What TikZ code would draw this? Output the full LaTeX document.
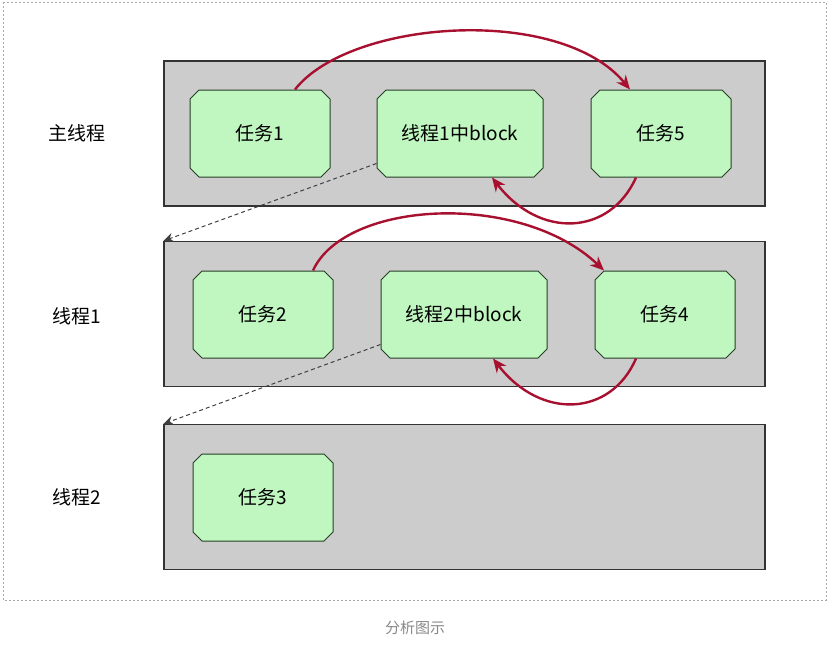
\documentclass[tikz,border=0pt]{standalone}
\usepackage{fontspec}
\setmainfont{Noto Sans CJK SC}
\usetikzlibrary{arrows.meta,positioning,shapes.misc}
\definecolor{taskgreen}{RGB}{192,246,192}
\definecolor{taskedge}{RGB}{38,64,38}
\definecolor{lanegray}{RGB}{204,204,204}
\definecolor{laneedge}{RGB}{51,51,51}
\definecolor{hopred}{RGB}{168,16,48}
\definecolor{framegray}{RGB}{170,170,170}
\definecolor{captiongray}{RGB}{136,136,136}

\begin{document}
\begin{tikzpicture}[x=1pt, y=-1pt,
    lane/.style={draw=laneedge, fill=lanegray, line width=1.2pt, minimum width=601pt, minimum height=145pt, inner sep=0pt},
    lanelabel/.style={font=\fontsize{19}{23}\selectfont},
    task/.style={chamfered rectangle, chamfered rectangle sep=4.5pt, draw=taskedge, fill=taskgreen, line width=1pt, minimum width=140pt, minimum height=87pt, inner sep=0pt, font=\fontsize{19}{23}\selectfont},
    wide/.style={minimum width=166pt},
    hop/.style={draw=hopred, line width=2.4pt, -{Stealth[length=14pt,width=12pt]}},
    handoff/.style={draw=black!75, dash pattern=on 4pt off 3pt, line width=1pt, -{Stealth[length=10pt,width=9pt]}}
  ]
  \useasboundingbox (0,0) rectangle (830,645);
  \draw[framegray, dash pattern=on 2pt off 2pt, line width=0.7pt] (3,2) rectangle (826,600);

  % three lanes
  \node[lane] (main) at (464.5,133.5) {};
  \node[lane] (th1) at (464.5,314) {};
  \node[lane] (th2) at (464.5,497) {};
  \node[lanelabel] (mainlabel) at (77,133) {主线程};
  \node[lanelabel] (th1label) at (77,316) {线程1};
  \node[lanelabel] (th2label) at (77,497) {线程2};

  \node[task] (t1) at (260,133.5) {任务1};
  \node[task, wide] (b1) at (460,133.5) {线程1中block};
  \node[task] (t5) at (661,133.5) {任务5};
  \node[task] (t2) at (263,314.5) {任务2};
  \node[task, wide] (b2) at (464,314.5) {线程2中block};
  \node[task] (t4) at (665,314.5) {任务4};
  \node[task] (t3) at (263,497.5) {任务3};

  \draw[hop] ([xshift=35pt]t1.north) .. controls +(55,-70) and +(-70,-85) .. ([xshift=-31pt]t5.north);
  \draw[hop] ([xshift=-25pt]t5.south) .. controls +(-26,58) and +(48,62) .. ([xshift=32pt]b1.south);
  \draw[hop] ([xshift=50pt]t2.north) .. controls +(32,-70) and +(-84,-80) .. ([xshift=-61pt]t4.north);
  \draw[hop] ([xshift=-29pt]t4.south) .. controls +(-25,58) and +(48,62) .. ([xshift=29pt]b2.south);

  \draw[handoff] ([yshift=-30pt]b1.west) -- (th1.north west);
  \draw[handoff] ([yshift=-30pt]b2.west) -- (th2.north west);

  \node[text=captiongray, font=\fontsize{15}{18}\selectfont] (caption) at (415,628) {分析图示};
\end{tikzpicture}
\end{document}
